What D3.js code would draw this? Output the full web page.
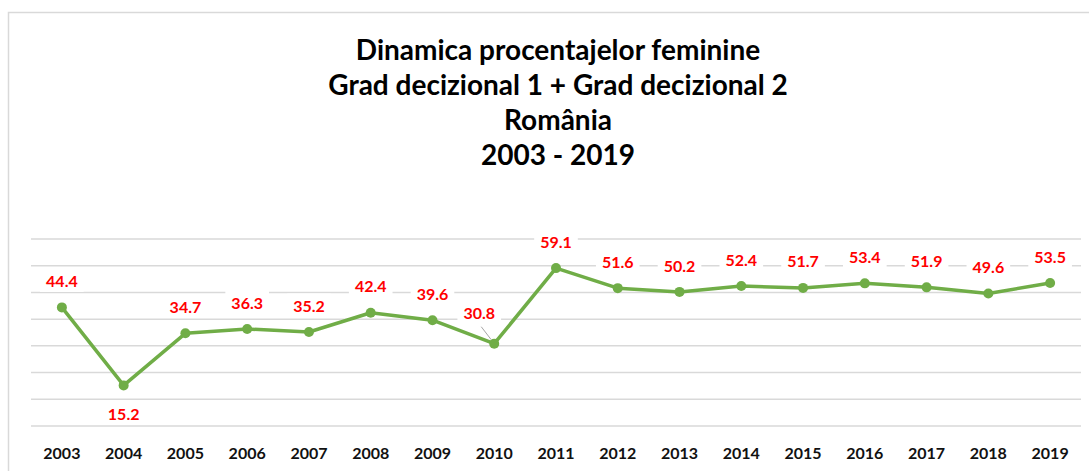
<!DOCTYPE html>
<html>
<head>
<meta charset="utf-8">
<script src="https://cdn.jsdelivr.net/npm/d3@7"></script>
<style>
  body { margin: 0; background: #fff; }
  text { font-family: Lato, "Open Sans", sans-serif; }
</style>
</head>
<body>
<div id="chart"></div>
<script>
// data
const years = ["2003","2004","2005","2006","2007","2008","2009","2010","2011",
               "2012","2013","2014","2015","2016","2017","2018","2019"];
const values = [44.4, 15.2, 34.7, 36.3, 35.2, 42.4, 39.6, 30.8, 59.1,
                51.6, 50.2, 52.4, 51.7, 53.4, 51.9, 49.6, 53.5];
const gridTicks = [0, 10, 20, 30, 40, 50, 60, 70];
const titleLines = ["Dinamica procentajelor feminine",
                    "Grad decizional 1 + Grad decizional 2",
                    "România",
                    "2003 - 2019"];

const W = 1089, H = 471;
const margin = {top: 239, right: 8, bottom: 45, left: 31};

const svg = d3.select("#chart").append("svg")
    .attr("width", W).attr("height", H);

// outer chart border (goes beyond right/bottom edges)
svg.append("rect")
    .attr("x", 8.5).attr("y", 12.5)
    .attr("width", W + 20).attr("height", H + 20)
    .attr("fill", "none")
    .attr("stroke", "#d9d9d9")
    .attr("stroke-width", 1.5);

// title
svg.append("g").selectAll("text")
  .data(titleLines)
  .join("text")
    .attr("x", 558)
    .attr("y", (d, i) => 60 + i * 35)
    .attr("text-anchor", "middle")
    .style("font-size", "28px")
    .style("font-weight", "bold")
    .style("fill", "#000")
    .text(d => d);

const x = d3.scaleBand()
    .domain(years)
    .range([margin.left, W - margin.right]);

const y = d3.scaleLinear()
    .domain([0, 70])
    .range([426, margin.top]);

// grid lines
svg.append("g")
  .selectAll("line")
  .data(gridTicks)
  .join("line")
    .attr("x1", margin.left).attr("x2", W - margin.right)
    .attr("y1", d => y(d)).attr("y2", d => y(d))
    .attr("stroke", "#d9d9d9")
    .attr("stroke-width", 1.5);

// year labels
svg.append("g")
  .selectAll("text")
  .data(years)
  .join("text")
    .attr("x", d => x(d) + x.bandwidth() / 2)
    .attr("y", 459)
    .attr("text-anchor", "middle")
    .style("font-size", "16px")
    .style("font-weight", "bold")
    .style("fill", "#111")
    .text(d => d);

const cx = (d, i) => x(years[i]) + x.bandwidth() / 2;

// data labels (white boxes cut the grid lines like in Excel)
const labelOffset = i => {
  if (years[i] === "2004") return [0, 29];
  if (years[i] === "2010") return [-15, -30];
  return [0, -26];
};

const lblG = svg.append("g");

// leader line for 2010
const i10 = years.indexOf("2010");
svg.append("line")
    .attr("x1", cx(null, i10) - 13).attr("y1", y(values[i10]) - 17)
    .attr("x2", cx(null, i10) - 3).attr("y2", y(values[i10]) - 4)
    .attr("stroke", "#a6a6a6")
    .attr("stroke-width", 1);

// line
const line = d3.line()
    .x((d, i) => cx(d, i))
    .y(d => y(d));

svg.append("path")
    .datum(values)
    .attr("d", line)
    .attr("fill", "none")
    .attr("stroke", "#70ad47")
    .attr("stroke-width", 3.5)
    .attr("stroke-linejoin", "round");

svg.append("g")
  .selectAll("circle")
  .data(values)
  .join("circle")
    .attr("cx", (d, i) => cx(d, i))
    .attr("cy", d => y(d))
    .attr("r", 5)
    .attr("fill", "#70ad47");

const labels = lblG.selectAll("g")
  .data(values)
  .join("g")
    .attr("transform", (d, i) => {
      const o = labelOffset(i);
      return `translate(${cx(d, i) + o[0]},${y(d) + o[1]})`;
    });

labels.append("rect");
labels.append("text")
    .attr("text-anchor", "middle")
    .attr("dy", "0.35em")
    .style("font-size", "16px")
    .style("font-weight", "bold")
    .style("fill", "#ff0000")
    .text(d => d.toFixed(1));

labels.each(function() {
  const g = d3.select(this);
  const bb = g.select("text").node().getBBox();
  g.select("rect")
    .attr("x", bb.x - 6).attr("y", bb.y - 2)
    .attr("width", bb.width + 12).attr("height", bb.height + 4)
    .attr("fill", "#fff");
});
</script>
</body>
</html>
